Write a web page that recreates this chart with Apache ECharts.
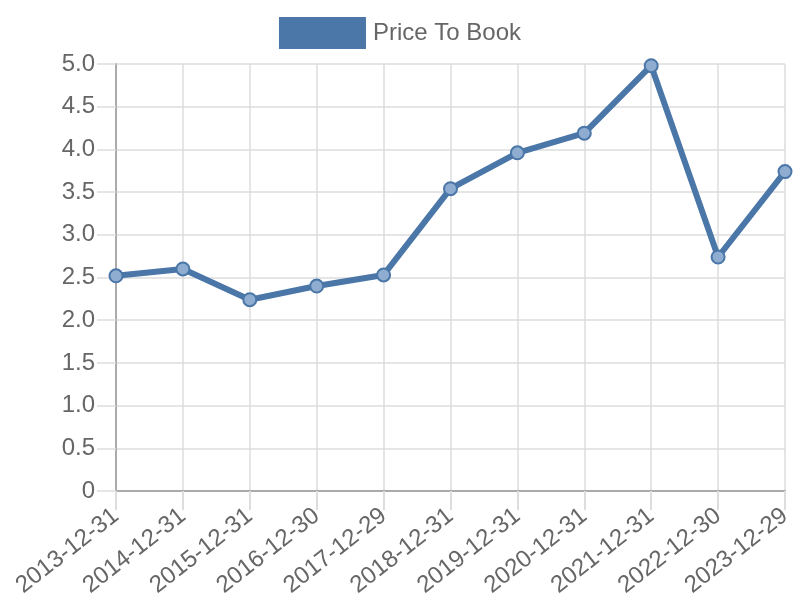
<!DOCTYPE html>
<html>
<head>
<meta charset="utf-8">
<script src="https://cdn.jsdelivr.net/npm/echarts@6/dist/echarts.min.js"></script>
<style>html,body{margin:0;padding:0;background:#fff}#c{width:800px;height:600px}</style>
</head>
<body>
<div id="c"></div>
<script>
const categories = ["2013-12-31","2014-12-31","2015-12-31","2016-12-30","2017-12-29","2018-12-31","2019-12-31","2020-12-31","2021-12-31","2022-12-30","2023-12-29"];
const priceToBook = [2.52, 2.60, 2.24, 2.40, 2.53, 3.54, 3.96, 4.19, 4.98, 2.74, 3.74];
const seriesName = "Price To Book";

const chart = echarts.init(document.getElementById('c'), null, {renderer: 'canvas'});
const lineColor = '#4a76a8';
const ff = '"Liberation Sans", Arial, sans-serif';
chart.setOption({
  animation: false,
  textStyle: {fontFamily: ff},
  legend: {
    top: 12,
    left: 'center',
    itemWidth: 85,
    itemHeight: 30,
    icon: 'rect',
    textStyle: {fontSize: 24, color: '#666', fontFamily: ff, padding: [0,0,0,3]},
    data: [{name: seriesName, itemStyle: {color: lineColor}}]
  },
  grid: {left: 116, right: 15, top: 64, bottom: 109, containLabel: false, outerBoundsMode: 'none'},
  xAxis: {
    type: 'category',
    data: categories,
    boundaryGap: false,
    axisLine: {lineStyle: {color: '#aaa', width: 2}},
    axisTick: {show: true, length: 19, alignWithLabel: true, lineStyle: {color: '#ddd', width: 2}},
    splitLine: {show: true, lineStyle: {color: '#ddd', width: 1.5}},
    axisLabel: {rotate: 38, fontSize: 24, color: '#666', margin: 22, interval: 0, fontFamily: ff}
  },
  yAxis: {
    type: 'value',
    min: 0, max: 5, interval: 0.5,
    axisLine: {show: true, lineStyle: {color: '#aaa', width: 2}},
    axisTick: {show: true, length: 19, lineStyle: {color: '#ddd', width: 1.5}},
    splitLine: {show: true, lineStyle: {color: '#ddd', width: 1.5}},
    axisLabel: {fontSize: 24, color: '#666', margin: 21, fontFamily: ff,
      formatter: v => v === 0 ? '0' : v.toFixed(1)}
  },
  series: [{
    name: seriesName,
    type: 'line',
    data: priceToBook,
    symbol: 'circle',
    symbolSize: 13,
    lineStyle: {color: lineColor, width: 6},
    itemStyle: {color: 'rgba(143,173,208,1)', borderColor: lineColor, borderWidth: 2},
    emphasis: {disabled: true}
  }]
});
</script>
</body>
</html>
